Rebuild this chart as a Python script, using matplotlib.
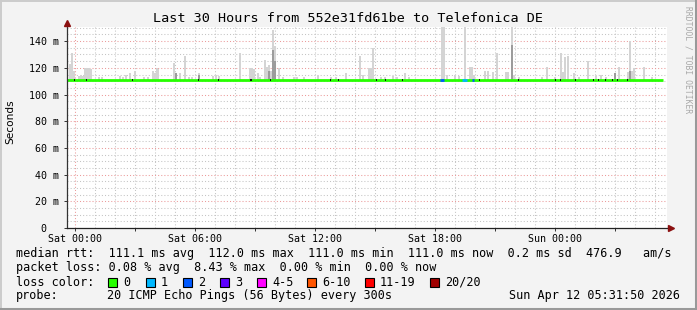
import numpy as np
import matplotlib.pyplot as plt
from matplotlib.patches import Rectangle
from matplotlib.lines import Line2D

W, H = 697, 310

title = 'Last 30 Hours from 552e31fd61be to Telefonica DE'
x_labels = ['Sat 00:00', 'Sat 06:00', 'Sat 12:00', 'Sat 18:00', 'Sun 00:00']
x_label_hours = [0.4, 6.4, 12.4, 18.4, 24.4]
y_ticks = [0, 20, 40, 60, 80, 100, 120, 140]
y_labels = ['0  ', '20 m', '40 m', '60 m', '80 m', '100 m', '120 m', '140 m']

# median rtt line (ms), hours from start of graph
median_hours = [0.0, 29.8]
median_ms = [111.0, 111.0]

# bins with packet loss: start, end (hours), lost pings
loss_start = [18.65, 19.75, 20.25]
loss_end = [18.85, 20.0, 20.35]
loss_count = [2, 1, 2]

# smoke: top of the ping spread per 5 min bin
smoke_hours = [0.10, 0.20, 0.30, 0.55, 0.65, 0.75, 0.85, 0.95, 1.05, 1.15, 1.55, 1.70,
               2.60, 2.75, 2.90, 3.10, 3.35, 3.80, 4.00, 4.25, 4.35, 4.45, 4.50, 5.30,
               5.40, 5.60, 5.85, 6.05, 6.20, 6.55, 7.25, 7.40, 7.55, 8.60, 9.10, 9.20,
               9.30, 9.50, 9.60, 9.85, 9.95, 10.05, 10.15, 10.25, 10.35, 10.55, 10.75,
               11.30, 11.45, 11.80, 12.50, 13.15, 13.40, 13.90, 14.60, 14.75, 15.05,
               15.15, 15.25, 15.65, 15.85, 16.25, 16.45, 16.85, 17.05, 18.70, 18.80,
               18.95, 19.35, 19.55, 19.85, 20.10, 20.20, 20.30, 20.85, 21.00, 21.25,
               21.45, 21.90, 22.00, 22.20, 22.30, 22.55, 23.70, 23.95, 24.35, 24.65,
               24.75, 24.85, 25.00, 25.30, 25.55, 26.00, 26.40, 26.65, 26.90, 27.35,
               27.55, 28.00, 28.10, 28.20, 28.30, 28.80, 29.20]
smoke_max = [123, 131, 118, 114, 115, 114, 120, 120, 120, 119, 113, 113,
             114, 113, 115, 116, 118, 113, 113, 118, 116, 120, 119, 124,
             116, 116, 129, 113, 113, 116, 114, 115, 114, 131, 120, 120,
             119, 116, 113, 126, 121, 122, 118, 148, 136, 120, 113,
             113, 113, 113, 115, 113, 113, 116, 129, 115, 120,
             120, 135, 113, 113, 114, 113, 116, 113, 151, 151,
             115, 115, 114, 151, 121, 121, 115, 118, 118, 117,
             131, 117, 117, 151, 115, 113, 113, 121, 113, 131,
             117, 128, 129, 116, 113, 125, 114, 115, 113, 116,
             121, 117, 140, 118, 120, 121, 113]

dark_hours = [5.40, 6.55, 10.05, 10.25, 10.35, 22.20, 27.35, 28.10]
dark_max = [116, 115, 118, 133, 125, 137, 116, 118]

# darkest smoke showing as small ticks on the median
tick_hours = [0.35, 0.95, 3.25, 6.55, 7.55, 9.2, 10.15, 13.15, 13.55, 15.45, 15.9,
              16.75, 20.6, 22.55, 24.4, 24.65, 25.4, 26.3, 26.55, 26.9, 27.25, 27.5, 28.0]

loss_labels = ['0', '1', '2', '3', '4-5', '6-10', '11-19', '20/20']
loss_colors = ['#26ff00', '#00b8ff', '#0059ff', '#5e00ff', '#ff00ff', '#ff5500', '#ff0000', '#a00000']
loss_box_x = [108, 146, 183, 220, 257, 307, 365, 430]

line_rtt = 'median rtt:  111.1 ms avg  112.0 ms max  111.0 ms min  111.0 ms now  0.2 ms sd  476.9   am/s'
line_loss = 'packet loss: 0.08 % avg  8.43 % max  0.00 % min  0.00 % now'
probe_text = '20 ICMP Echo Pings (56 Bytes) every 300s'
stamp = 'Sun Apr 12 05:31:50 2026'

mono = 'DejaVu Sans Mono'
plt.rcParams['font.family'] = mono

fig = plt.figure(figsize=(W / 100, H / 100), dpi=100, facecolor='#f3f3f3')
ax = fig.add_axes([67 / W, 1 - 228 / H, 600 / W, 201 / H])
ax.set_facecolor('white')
ax.set_xlim(0, 30)
ax.set_ylim(0, 150.6)
for s in ax.spines.values():
    s.set_visible(False)

dot = (0, (1, 2))
for h in np.arange(0.4, 30, 1):
    major = abs((h - 0.4) % 3) < 0.01
    ax.axvline(h, color='#eb9a9a' if major else '#c4c4c4', lw=0.75, ls=dot, zorder=0)
for v in range(5, 151, 5):
    ax.axhline(v, color='#eb9a9a' if v % 20 == 0 else '#c4c4c4', lw=0.75, ls=dot, zorder=0)

w = 1 / 12
ax.bar(smoke_hours, np.array(smoke_max) - 110.5, bottom=110.5, width=w,
       align='edge', color='#d4d4d4', zorder=1)
ax.bar(dark_hours, np.array(dark_max) - 110.5, bottom=110.5, width=w,
       align='edge', color='#9c9c9c', zorder=1)

ax.plot(median_hours, median_ms, color=loss_colors[0], lw=2.0, solid_capstyle='butt', zorder=3)
for s, e, n in zip(loss_start, loss_end, loss_count):
    ax.plot([s, e], [median_ms[0], median_ms[0]], color=loss_colors[n], lw=2.0,
            solid_capstyle='butt', zorder=4)
ax.bar(tick_hours, 1.6, bottom=110.3, width=0.05, color='#111111', zorder=5)

ax.set_xticks(x_label_hours, x_labels)
ax.set_xticks(np.arange(0.4, 30, 3), minor=True)
ax.set_yticks(y_ticks, y_labels)
ax.tick_params(axis='x', which='both', length=2, width=0.7, color='#333333', pad=2, labelsize=7.2)
ax.tick_params(axis='y', length=2, width=0.7, color='#333333', pad=4, labelsize=7.2)

# axes with arrows
ax.plot([0, 0], [0, 1.025], transform=ax.transAxes, color='#333333', lw=0.9, clip_on=False, zorder=6)
ax.plot([0, 1.005], [0, 0], transform=ax.transAxes, color='#222222', lw=0.9, clip_on=False, zorder=6)
ax.plot([0], [1.022], transform=ax.transAxes, marker='^', ms=5, color='#8b1010', clip_on=False, zorder=7)
ax.plot([1.006], [0], transform=ax.transAxes, marker='>', ms=5, color='#8b1010', clip_on=False, zorder=7)

ax.set_ylabel('Seconds', family='DejaVu Sans', fontsize=7.6)
ax.yaxis.set_label_coords(-52 / 600, 0.527)


def px(x, y):
    return x / W, 1 - y / H


fig.text(*px(348, 18), title, fontsize=9.7, ha='center', va='center')
fig.text(*px(688, 60), 'RRDTOOL / TOBI OETIKER', fontsize=5.8, rotation=270,
         ha='center', va='center', color='#a8a8a8')

fs = 8.5
fig.text(*px(16, 254), line_rtt, fontsize=fs, va='center')
fig.text(*px(16, 268), line_loss, fontsize=fs, va='center')
fig.text(*px(16, 282), 'loss color:', fontsize=fs, va='center')
for x, lab, c in zip(loss_box_x, loss_labels, loss_colors):
    fig.add_artist(Rectangle(px(x, 286.5), 9 / W, 9 / H, facecolor=c, edgecolor='black',
                             lw=0.8, transform=fig.transFigure))
    fig.text(*px(x + 15, 282), lab, fontsize=fs, va='center')
fig.text(*px(16, 296), 'probe:', fontsize=fs, va='center')
fig.text(*px(107, 296), probe_text, fontsize=fs, va='center')
fig.text(*px(680, 296), stamp, fontsize=fs, va='center', ha='right')

# 3d frame
fig.add_artist(Line2D([0, 1], [1 - 1 / H, 1 - 1 / H], color='#cbcbcb', lw=1.4))
fig.add_artist(Line2D([1 / W, 1 / W], [0, 1], color='#cbcbcb', lw=1.4))
fig.add_artist(Line2D([0, 1], [1.5 / H, 1.5 / H], color='#999999', lw=2.2))
fig.add_artist(Line2D([1 - 1.5 / W, 1 - 1.5 / W], [0, 1], color='#999999', lw=2.2))

fig.savefig('out.png', dpi=100, facecolor=fig.get_facecolor())
